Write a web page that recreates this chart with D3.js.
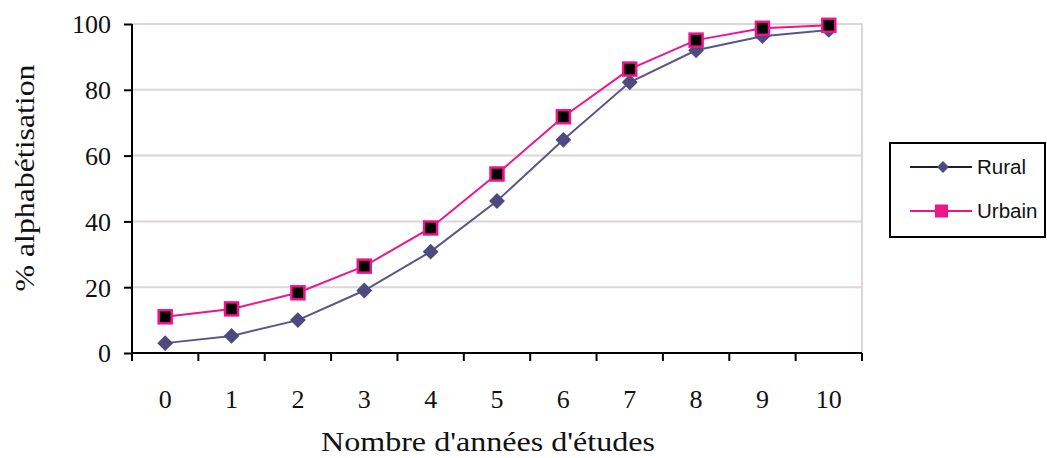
<!DOCTYPE html>
<html>
<head>
<meta charset="utf-8">
<script src="https://cdn.jsdelivr.net/npm/d3@7/dist/d3.min.js"></script>
<style>
  html, body { margin: 0; padding: 0; background: #fff; }
  svg { display: block; }
</style>
</head>
<body>
<svg id="chart" width="1047" height="458"></svg>
<script>
// Années d'études (catégories de l'axe X)
const years = ["0", "1", "2", "3", "4", "5", "6", "7", "8", "9", "10"];
// Taux d'alphabétisation (%) par milieu
const rural  = [3, 5.2, 10, 19, 30.8, 46.2, 64.8, 82.3, 92, 96.3, 98.2];
const urbain = [11, 13.4, 18.3, 26.4, 38, 54.4, 71.8, 86.3, 95.1, 98.7, 99.6];
const yTicks = [0, 20, 40, 60, 80, 100];
const seriesNames = ["Rural", "Urbain"];

const colors = { rural: "#4e4a80", ruralLine: "#5a5788", urbain: "#f0148c" };
const serif = "'Liberation Serif', 'Times New Roman', serif";
const sans = "'Liberation Sans', Arial, sans-serif";

const svg = d3.select("#chart");
const plot = { left: 132, right: 862, top: 24, bottom: 353 };

const x = d3.scaleBand().domain(years).range([plot.left, plot.right]).padding(0);
const y = d3.scaleLinear().domain([0, 100]).range([plot.bottom, plot.top]);
const cx = d => x(d) + x.bandwidth() / 2;

// Quadrillage horizontal et bordure droite de la zone de tracé
svg.append("g")
  .selectAll("line")
  .data(yTicks.filter(t => t > 0))
  .join("line")
  .attr("x1", plot.left).attr("x2", plot.right)
  .attr("y1", d => y(d)).attr("y2", d => y(d))
  .attr("stroke", "#dcd6d6").attr("stroke-width", 2);
svg.append("line")
  .attr("x1", plot.right).attr("x2", plot.right)
  .attr("y1", y(100)).attr("y2", y(0))
  .attr("stroke", "#dcd6d6").attr("stroke-width", 2);

// Axe Y
const yAxis = svg.append("g")
  .attr("transform", `translate(${plot.left},0)`)
  .call(d3.axisLeft(y).tickValues(yTicks).tickSize(8).tickPadding(13));
yAxis.select(".domain").attr("stroke", "#000").attr("stroke-width", 2)
  .attr("d", `M0,${y(100)}V${y(0) + 8}`);
yAxis.selectAll(".tick line").attr("stroke", "#000").attr("stroke-width", 2);
yAxis.selectAll(".tick text")
  .attr("font-family", serif).attr("font-size", 26).attr("fill", "#111")
  .attr("dy", "0.34em");

// Axe X : graduations entre les catégories
const xAxis = svg.append("g")
  .attr("transform", `translate(0,${plot.bottom})`)
  .call(d3.axisBottom(x).tickSize(0).tickPadding(37));
xAxis.select(".domain").attr("stroke", "#000").attr("stroke-width", 2)
  .attr("d", `M${plot.left},0H${plot.right}`);
xAxis.selectAll(".tick text")
  .attr("font-family", serif).attr("font-size", 26).attr("fill", "#111");
const bounds = years.map(d => x(d)).concat([plot.right]);
xAxis.append("g").selectAll("line")
  .data(bounds)
  .join("line")
  .attr("x1", d => d).attr("x2", d => d)
  .attr("y1", 0).attr("y2", 8)
  .attr("stroke", "#000").attr("stroke-width", 2);

// Titres des axes
svg.append("text")
  .attr("x", 488).attr("y", 451)
  .attr("text-anchor", "middle")
  .attr("font-family", serif).attr("font-size", 27).attr("fill", "#111")
  .attr("textLength", 334).attr("lengthAdjust", "spacingAndGlyphs")
  .text("Nombre d'années d'études");
svg.append("text")
  .attr("transform", "translate(34,178) rotate(-90)")
  .attr("text-anchor", "middle")
  .attr("font-family", serif).attr("font-size", 28).attr("fill", "#111")
  .attr("textLength", 227).attr("lengthAdjust", "spacingAndGlyphs")
  .text("% alphabétisation");

// Courbes
const line = d3.line().x((d, i) => cx(years[i])).y(d => y(d));

svg.append("path").datum(rural)
  .attr("d", line).attr("fill", "none")
  .attr("stroke", colors.ruralLine).attr("stroke-width", 2);
svg.append("path").datum(urbain)
  .attr("d", line).attr("fill", "none")
  .attr("stroke", colors.urbain).attr("stroke-width", 2);

// Marqueurs
const diamond = d3.symbol().type(d3.symbolDiamond2).size(160);
svg.append("g").selectAll("path")
  .data(rural)
  .join("path")
  .attr("transform", (d, i) => `translate(${cx(years[i])},${y(d)})`)
  .attr("d", diamond)
  .attr("fill", colors.rural);

const sq = 13;
svg.append("g").selectAll("rect")
  .data(urbain)
  .join("rect")
  .attr("x", (d, i) => cx(years[i]) - sq / 2)
  .attr("y", d => y(d) - sq / 2)
  .attr("width", sq).attr("height", sq)
  .attr("fill", "#000")
  .attr("stroke", colors.urbain).attr("stroke-width", 2.5);

// Légende
const legend = svg.append("g");
legend.append("rect")
  .attr("x", 890).attr("y", 143).attr("width", 155).attr("height", 94)
  .attr("fill", "#fff").attr("stroke", "#000").attr("stroke-width", 2);

const legendRows = [
  { name: seriesNames[0], y: 167, line: "#1e1e2e", marker: "diamond" },
  { name: seriesNames[1], y: 211, line: colors.urbain, marker: "square" }
];
legendRows.forEach(r => {
  legend.append("line")
    .attr("x1", 910).attr("x2", 972).attr("y1", r.y).attr("y2", r.y)
    .attr("stroke", r.line).attr("stroke-width", 2);
  if (r.marker === "diamond") {
    legend.append("path")
      .attr("transform", `translate(943,${r.y})`)
      .attr("d", d3.symbol().type(d3.symbolDiamond2).size(90))
      .attr("fill", colors.rural);
  } else {
    legend.append("rect")
      .attr("x", 935).attr("y", r.y - 6.5).attr("width", 13).attr("height", 13)
      .attr("fill", colors.urbain);
  }
  legend.append("text")
    .attr("x", 977).attr("y", r.y)
    .attr("dy", "0.35em")
    .attr("font-family", sans).attr("font-size", 20.5).attr("fill", "#111")
    .text(r.name);
});
</script>
</body>
</html>
